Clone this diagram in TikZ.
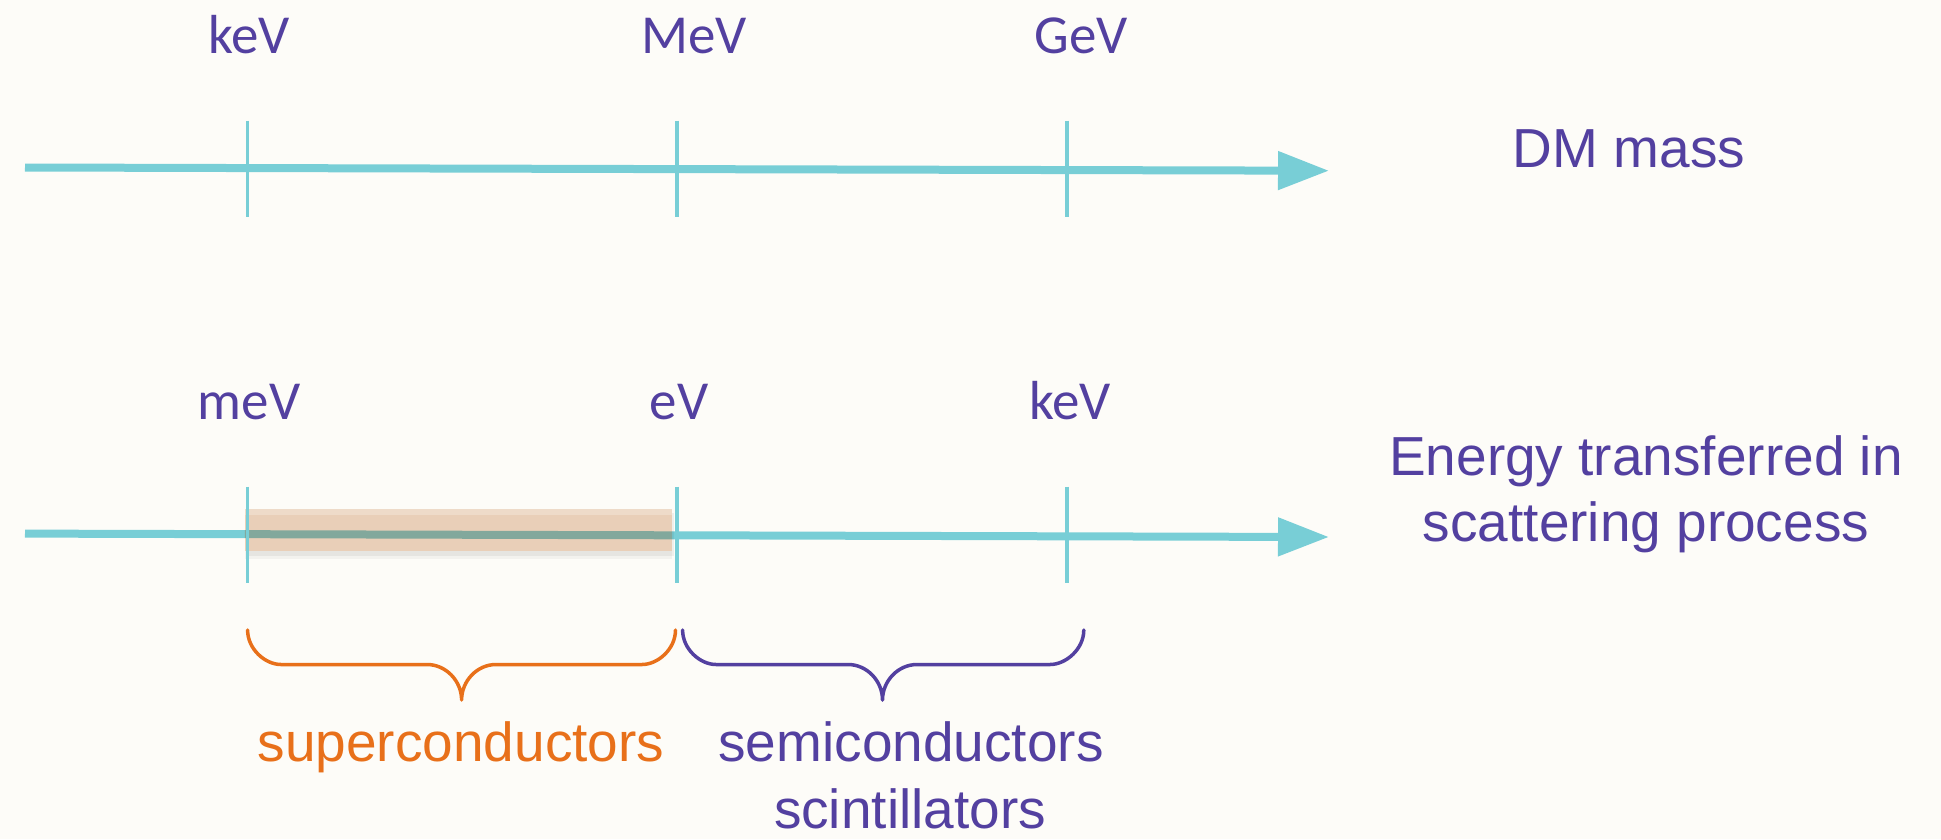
\documentclass[tikz,border=0pt]{standalone}
\usepackage{fontspec}
\setmainfont{Liberation Sans}
\newfontfamily\calfont{Carlito}
\usetikzlibrary{arrows.meta,calc}
\definecolor{bgc}{RGB}{253,252,248}
\definecolor{axisc}{RGB}{120,206,214}
\definecolor{purp}{RGB}{83,64,160}
\definecolor{orng}{RGB}{232,112,26}
\definecolor{bandc}{RGB}{233,207,184}
\definecolor{overlapc}{RGB}{130,168,156}
\tikzset{
  axisline/.style={draw=axisc, line width=8pt, -{Triangle[length=51pt,width=37pt]}},
  tickline/.style={draw=axisc, line width=3.5pt},
  unitlabel/.style={anchor=base, inner sep=0pt, text=purp, font=\calfont\fontsize{55}{66}\selectfont},
  desclabel/.style={anchor=base, inner sep=0pt, text=purp, font=\fontsize{55}{66}\selectfont},
  orangelabel/.style={desclabel, text=orng},
  bracepath/.style={line width=3.5pt, line cap=round, line join=round},
}
\begin{document}
\begin{tikzpicture}[x=1pt,y=-1pt]
\useasboundingbox (0,0) rectangle (1941,839);
\fill[bgc] (0,0) rectangle (1941,839);

% ---------- top axis ----------
\coordinate (a1s) at (25,167.5);
\coordinate (a1e) at (1329,170.7);
\draw[axisline] (a1s) -- (a1e);
\coordinate (t1a) at (247.6,120.5); \coordinate (t1b) at (247.6,216.7);
\coordinate (t2a) at (677,120.5);   \coordinate (t2b) at (677,216.7);
\coordinate (t3a) at (1067,120.5);  \coordinate (t3b) at (1067,216.7);
\draw[tickline] (t1a) -- (t1b);
\draw[tickline] (t2a) -- (t2b);
\draw[tickline] (t3a) -- (t3b);
\node[unitlabel] (lkeV) at (249,53.3) {keV};
\node[unitlabel] (lMeV) at (694,53.3) {MeV};
\node[unitlabel] (lGeV) at (1081,53.3) {GeV};
\node[desclabel] (dm) at (1629,167.7) {DM mass};

% ---------- bottom axis ----------
\coordinate (a2s) at (25,533.6);
\coordinate (a2e) at (1329,537);
\draw[axisline] (a2s) -- (a2e);
% highlighted band
\fill[black, opacity=0.05] (247,513) rectangle (674,556);
\fill[black, opacity=0.04] (245,511) rectangle (672,559);
\fill[bandc] (245,509) rectangle (672,551);
\fill[white, opacity=0.25] (245,509) rectangle (672,515);
\coordinate (ovs) at ($(a2s)!0.1687!(a2e)$);
\coordinate (ove) at ($(a2s)!0.4962!(a2e)$);
\draw[overlapc, line width=8pt] (ovs) -- (ove);
\coordinate (b1a) at (247.6,486.5); \coordinate (b1b) at (247.6,583);
\coordinate (b2a) at (677,486.5);   \coordinate (b2b) at (677,583);
\coordinate (b3a) at (1067,486.5);  \coordinate (b3b) at (1067,583);
\draw[tickline] (b1a) -- (b1b);
\draw[tickline] (b2a) -- (b2b);
\draw[tickline] (b3a) -- (b3b);
\node[unitlabel] (lmeV) at (249,419.3) {meV};
\node[unitlabel] (leV) at (679,419.3) {eV};
\node[unitlabel] (lkeV2) at (1070,419.3) {keV};
\node[desclabel] (en1) at (1646,475) {Energy transferred in};
\node[desclabel] (en2) at (1646,541.7) {scattering process};

% ---------- braces ----------
% orange brace
\draw[bracepath, orng]
  (247.6,630) .. controls (247.6,649) and (265,664.5) .. (281,664.5)
  -- (427,664.5) .. controls (446,664.5) and (461.6,681) .. (461.6,700)
  .. controls (461.6,681) and (477,664.5) .. (496,664.5)
  -- (642,664.5) .. controls (658,664.5) and (675.5,649) .. (675.5,630);
% purple brace
\draw[bracepath, purp]
  (682.6,630) .. controls (682.6,649) and (700,664.5) .. (716,664.5)
  -- (848,664.5) .. controls (867,664.5) and (882.5,681) .. (882.5,700)
  .. controls (882.5,681) and (898,664.5) .. (917,664.5)
  -- (1050,664.5) .. controls (1066,664.5) and (1083.8,649) .. (1083.8,630);

\node[orangelabel] (sup) at (461,761.7) {superconductors};
\node[desclabel] (semi) at (911,761.7) {semiconductors};
\node[desclabel] (scin) at (910,828.3) {scintillators};
\end{tikzpicture}
\end{document}
